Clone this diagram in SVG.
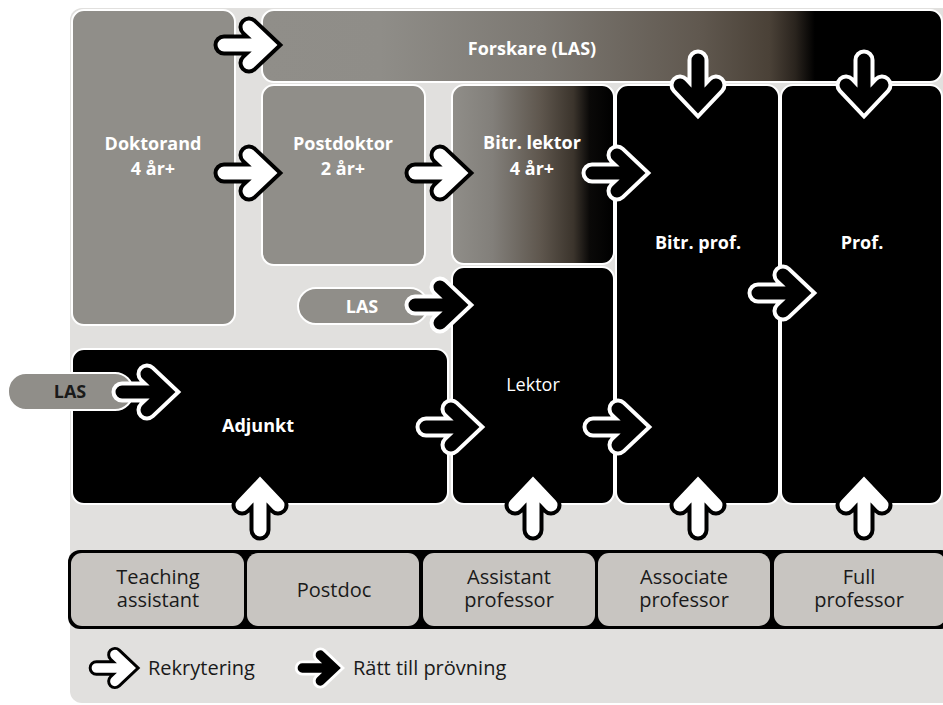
<svg xmlns="http://www.w3.org/2000/svg" xmlns:xlink="http://www.w3.org/1999/xlink" width="943" height="705" viewBox="0 0 943 705">
<style>
.box{stroke:#fff;stroke-width:2}
.gray{fill:#908e89}
.blk{fill:#000}
.t{font-family:"Open Sans","Noto Sans","Liberation Sans",sans-serif;font-size:18px;text-anchor:middle}
.b{font-weight:bold;fill:#fff}
.r{fill:#fff}
.bt{font-family:"Open Sans","Noto Sans","Liberation Sans",sans-serif;font-size:20px;text-anchor:middle;fill:#1a1a1a}
.lg{font-family:"Open Sans","Noto Sans","Liberation Sans",sans-serif;font-size:20px;fill:#1a1a1a}
.bb{fill:#c8c5c1}
.ob{fill:none;stroke:#000;stroke-width:21;stroke-linecap:round;stroke-linejoin:miter}
.iw{fill:none;stroke:#fff;stroke-width:13;stroke-linecap:round;stroke-linejoin:miter}
.ow{fill:none;stroke:#fff;stroke-width:21;stroke-linecap:round;stroke-linejoin:miter}
.ib{fill:none;stroke:#000;stroke-width:13;stroke-linecap:round;stroke-linejoin:miter}
</style>
<defs>
<linearGradient id="gF" gradientUnits="userSpaceOnUse" x1="262" y1="0" x2="942" y2="0">
<stop offset="0" stop-color="#908e89"/>
<stop offset="0.174" stop-color="#8f8d88"/>
<stop offset="0.409" stop-color="#7c7872"/>
<stop offset="0.644" stop-color="#60584f"/>
<stop offset="0.747" stop-color="#4a4137"/>
<stop offset="0.784" stop-color="#2a241e"/>
<stop offset="0.813" stop-color="#000"/>
<stop offset="1" stop-color="#000"/>
</linearGradient>
<linearGradient id="gL" gradientUnits="userSpaceOnUse" x1="452" y1="0" x2="614" y2="0">
<stop offset="0" stop-color="#908e89"/>
<stop offset="0.25" stop-color="#827f7a"/>
<stop offset="0.55" stop-color="#5e564d"/>
<stop offset="0.75" stop-color="#3b342c"/>
<stop offset="0.85" stop-color="#0a0908"/>
<stop offset="1" stop-color="#000"/>
</linearGradient>
<path id="ap" d="M-44,0H-2M-19,-18L0,0L-19,18"/>
<g id="rek"><use href="#ap" class="ob"/><use href="#ap" class="iw"/></g>
<g id="prv"><use href="#ap" class="ow"/><use href="#ap" class="ib"/></g>
</defs>

<rect x="70" y="8" width="890" height="695" rx="12" fill="#e1e0de"/>

<g id="doktorand">
<rect class="box gray" x="72" y="10" width="163" height="315" rx="12"/>
<text class="t b" x="153" y="150">Doktorand<tspan x="153" y="175">4 år+</tspan></text>
</g>
<g id="forskare">
<rect class="box" fill="url(#gF)" x="262" y="10" width="680" height="72" rx="12"/>
<text class="t b" x="532" y="55">Forskare (LAS)</text>
</g>
<g id="postdoktor">
<rect class="box gray" x="262" y="85" width="163" height="180" rx="12"/>
<text class="t b" x="343" y="150">Postdoktor<tspan x="343" y="175">2 år+</tspan></text>
</g>
<g id="bitr-lektor">
<rect class="box" fill="url(#gL)" x="452" y="85" width="162" height="179" rx="12"/>
<text class="t b" x="532" y="149">Bitr. lektor<tspan x="532" y="175">4 år+</tspan></text>
</g>
<g id="lektor">
<rect class="box blk" x="452" y="267" width="162" height="237" rx="12"/>
<text class="t r" x="533" y="391">Lektor</text>
</g>
<g id="bitr-prof">
<rect class="box blk" x="616" y="85" width="163" height="419" rx="12"/>
<text class="t b" x="698" y="249">Bitr. prof.</text>
</g>
<g id="prof">
<rect class="box blk" x="781" y="85" width="161" height="419" rx="12"/>
<text class="t b" x="862" y="249">Prof.</text>
</g>
<g id="adjunkt">
<rect class="box blk" x="72" y="349" width="376" height="155" rx="12"/>
<text class="t b" x="258" y="432">Adjunkt</text>
</g>
<g id="las-upper">
<rect class="box gray" x="298" y="288" width="130" height="36" rx="18"/>
<text class="t b" x="362" y="313">LAS</text>
</g>
<g id="las-left">
<rect class="box gray" x="8" y="373" width="125" height="37" rx="18"/>
<text class="t" x="70" y="398" font-weight="bold" fill="#1a1a1a">LAS</text>
</g>

<g id="english-titles">
<rect x="68" y="550" width="885" height="79" rx="12" fill="#000"/>
<g id="teaching-assistant">
<rect class="bb" x="71" y="553" width="173" height="73" rx="11"/>
<text class="bt" x="158" y="584">Teaching<tspan x="158" y="607">assistant</tspan></text>
</g>
<g id="postdoc">
<rect class="bb" x="247" y="553" width="172" height="73" rx="11"/>
<text class="bt" x="334" y="597">Postdoc</text>
</g>
<g id="assistant-professor">
<rect class="bb" x="423" y="553" width="172" height="73" rx="11"/>
<text class="bt" x="509" y="584">Assistant<tspan x="509" y="607">professor</tspan></text>
</g>
<g id="associate-professor">
<rect class="bb" x="598" y="553" width="172" height="73" rx="11"/>
<text class="bt" x="684" y="584">Associate<tspan x="684" y="607">professor</tspan></text>
</g>
<g id="full-professor">
<rect class="bb" x="774" y="553" width="172" height="73" rx="11"/>
<text class="bt" x="859" y="584">Full<tspan x="859" y="607">professor</tspan></text>
</g>
</g>

<g id="connectors">
<use href="#rek" transform="translate(268,45)"/>
<use href="#rek" transform="translate(268,173)"/>
<use href="#rek" transform="translate(459,173)"/>
<use href="#prv" transform="translate(636,173)"/>
<use href="#prv" transform="translate(459,305)"/>
<use href="#prv" transform="translate(802,293)"/>
<use href="#prv" transform="translate(166,392)"/>
<use href="#prv" transform="translate(470,427)"/>
<use href="#prv" transform="translate(637,427)"/>
<use href="#prv" transform="translate(698,104) rotate(90)"/>
<use href="#prv" transform="translate(864,104) rotate(90)"/>
<use href="#rek" transform="translate(260,486) rotate(-90)"/>
<use href="#rek" transform="translate(533,486) rotate(-90)"/>
<use href="#rek" transform="translate(698,486) rotate(-90)"/>
<use href="#rek" transform="translate(864,486) rotate(-90)"/>
</g>

<g id="legend">
<use href="#rek" transform="translate(129,668) scale(0.74)"/>
<text class="lg" x="148" y="675">Rekrytering</text>
<use href="#prv" transform="translate(334,668) scale(0.72)"/>
<text class="lg" x="353" y="675">Rätt till prövning</text>
</g>
</svg>
